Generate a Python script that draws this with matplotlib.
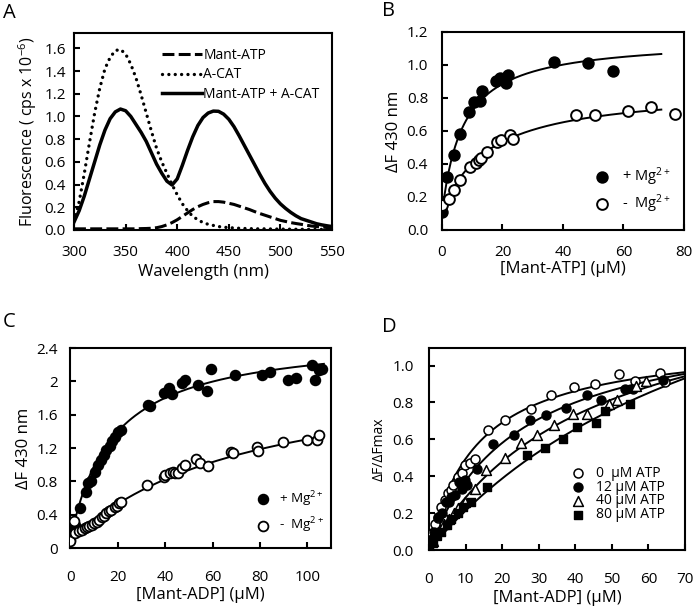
import matplotlib
matplotlib.use('Agg')
import matplotlib.pyplot as plt
import numpy as np

plt.rcParams['font.family'] = ['Open Sans', 'DejaVu Sans']
plt.rcParams['mathtext.fontset'] = 'custom'
plt.rcParams['mathtext.rm'] = 'Open Sans'
plt.rcParams['mathtext.it'] = 'Open Sans:italic'
plt.rcParams['mathtext.bf'] = 'Open Sans:bold'

# ---- panel A: emission spectra (300-550 nm, every 5 nm)
wl = list(range(300, 551, 5))
mant_atp = [0.01, 0.01, 0.01, 0.01, 0.01, 0.01, 0.01, 0.01, 0.01, 0.01, 0.01, 0.01, 0.01, 0.012, 0.013,
            0.015, 0.02, 0.03, 0.045, 0.065,
            0.09, 0.12, 0.15, 0.18, 0.205, 0.225, 0.24, 0.25, 0.25, 0.245, 0.235, 0.225, 0.21, 0.195, 0.18,
            0.162, 0.145, 0.13, 0.115, 0.10,
            0.085, 0.075, 0.065, 0.057, 0.05, 0.042, 0.035, 0.03, 0.025, 0.022, 0.02]
a_cat = [0.08, 0.25, 0.50, 0.77, 1.03, 1.25, 1.42, 1.52, 1.58, 1.59, 1.55, 1.46, 1.34, 1.19, 1.03, 0.87,
         0.72, 0.60, 0.50, 0.40, 0.31, 0.23, 0.17, 0.12, 0.09, 0.065, 0.05, 0.04, 0.03, 0.025, 0.02, 0.018,
         0.015, 0.013, 0.012, 0.01, 0.01,
         0.01, 0.009, 0.008, 0.008, 0.007, 0.007, 0.006, 0.006, 0.005, 0.005, 0.005, 0.005, 0.005, 0.005]
mix = [0.07, 0.17, 0.30, 0.45, 0.60, 0.75, 0.88, 0.98, 1.04, 1.065, 1.05, 1.00, 0.93, 0.86, 0.78, 0.68,
       0.58, 0.50, 0.43, 0.396,
       0.45, 0.57, 0.70, 0.82, 0.92, 0.99, 1.03, 1.047, 1.045, 1.02, 0.975, 0.91, 0.83, 0.745, 0.66, 0.575,
       0.49, 0.41, 0.34, 0.28,
       0.23, 0.19, 0.155, 0.125, 0.10, 0.085, 0.07, 0.055, 0.045, 0.037, 0.03]

# ---- panel B: Mant-ATP titration
bx_mg = [0, 1.7, 3.9, 6.1, 8.9, 10.6, 12.6, 13.3, 17.8, 19.2, 21.1, 21.7, 36.9, 48.3, 56.4]
by_mg = [0.11, 0.32, 0.455, 0.58, 0.715, 0.775, 0.78, 0.84, 0.905, 0.92, 0.89, 0.94, 1.02, 1.015, 0.965]
bx_no = [0, 2.2, 3.9, 6.1, 9.4, 11.1, 12.2, 12.8, 15.0, 18.1, 19.4, 22.4, 23.4, 44.4, 50.5, 61.4, 69.2, 77.0]
by_no = [0.15, 0.19, 0.243, 0.30, 0.379, 0.405, 0.425, 0.435, 0.47, 0.536, 0.547, 0.573, 0.55, 0.698,
         0.698, 0.723, 0.745, 0.704]
fit_b_mg = (0.10, 1.06, 7.0)     # F0, dFmax, Kd
fit_b_no = (0.10, 0.76, 15.0)

# ---- panel C: Mant-ADP titration
cx_mg = [0, 1.0, 2.1, 4.1, 6.5, 7.6, 8.6, 10.3, 11.7, 12.8, 14.2, 15.2, 16.5, 17.7, 18.6, 20.0, 21.4,
         32.7, 33.5, 39.3, 41.4, 42.8, 47.2, 48.3, 53.8, 57.8, 59.3, 69.6, 80.7, 84.1, 91.7, 95.2,
         102.1, 103.4, 104.8, 106.0]
cy_mg = [0.096, 0.2, 0.28, 0.476, 0.676, 0.776, 0.80, 0.916, 0.996, 1.056, 1.116, 1.176, 1.224, 1.288,
         1.328, 1.396, 1.416, 1.716, 1.70, 1.856, 1.924, 1.844, 1.98, 2.016, 1.956, 1.884, 2.144, 2.076,
         2.076, 2.116, 2.016, 2.036, 2.196, 2.016, 2.136, 2.15]
cx_no = [0, 1.5, 2.1, 3.5, 4.8, 6.0, 6.9, 8.0, 9.0, 10.0, 11.0, 12.0, 13.1, 14.2, 15.2, 16.2, 17.3,
         18.6, 19.6, 20.7, 21.5, 32.4, 39.3, 40.0, 42.1, 43.4, 44.1, 45.5, 46.9, 48.3, 53.1, 54.5,
         58.2, 67.6, 68.5, 78.6, 79.0, 89.7, 100.0, 104.1, 105.1]
cy_no = [0.08, 0.33, 0.176, 0.2, 0.22, 0.24, 0.256, 0.26, 0.276, 0.3, 0.316, 0.34, 0.376, 0.39, 0.416,
         0.44, 0.456, 0.496, 0.50, 0.536, 0.55, 0.756, 0.856, 0.876, 0.896, 0.916, 0.90, 0.896, 0.956,
         0.996, 1.064, 1.016, 0.988, 1.156, 1.14, 1.216, 1.17, 1.276, 1.30, 1.30, 1.356]
fit_c_mg = (0.10, 2.463, 17.9)
fit_c_no = (0.08, 2.149, 75.5)

# ---- panel D: Mant-ADP with competing ATP
dx0 = [0.7, 1.6, 2.5, 3.4, 4.5, 5.2, 6.1, 6.6, 7.9, 9.0, 9.8, 11.1, 12.5, 16.1, 20.7, 28.0, 33.5, 39.7,
       45.5, 51.9, 56.3, 63.1, 64.5]
dy0 = [0.09, 0.14, 0.171, 0.234, 0.27, 0.31, 0.324, 0.351, 0.396, 0.42, 0.459, 0.47, 0.495, 0.649,
       0.706, 0.762, 0.838, 0.883, 0.901, 0.955, 0.915, 0.960, 0.91]
dx12 = [0, 0.8, 1.5, 2.5, 3.5, 4.7, 5.5, 6.1, 7.0, 8.1, 9.0, 9.9, 10.5, 13.0, 17.5, 23.3, 27.6, 32.1,
        37.6, 43.1, 47.0, 53.6, 55.8, 63.9]
dy12 = [0.0, 0.06, 0.10, 0.18, 0.20, 0.261, 0.26, 0.288, 0.30, 0.369, 0.33, 0.378, 0.35, 0.441, 0.573,
        0.622, 0.703, 0.733, 0.769, 0.838, 0.814, 0.874, 0.874, 0.924]
dx40 = [1.0, 2.0, 3.0, 4.2, 5.5, 6.8, 8.0, 9.8, 12.5, 15.7, 20.7, 25.3, 29.5, 34.2, 39.4, 43.3, 49.2,
        51.3, 56.7, 59.4]
dy40 = [0.05, 0.08, 0.11, 0.14, 0.17, 0.20, 0.23, 0.26, 0.333, 0.432, 0.50, 0.58, 0.625, 0.675, 0.738,
        0.736, 0.793, 0.815, 0.89, 0.915]
dx80 = [1.0, 2.1, 3.4, 4.8, 6.1, 7.9, 9.3, 11.6, 15.9, 26.9, 31.7, 36.7, 40.4, 45.7, 48.1, 55.0]
dy80 = [0.04, 0.081, 0.099, 0.135, 0.166, 0.198, 0.234, 0.261, 0.344, 0.513, 0.555, 0.60, 0.667, 0.689,
        0.752, 0.791]
fit_d = [(0, 1.146, 13.2), (0, 1.288, 24.4), (0, 1.534, 44.0), (0, 2.124, 89.7)]


def hyperbola(x, p):
    return p[0] + p[1] * x / (p[2] + x)


def style(ax, xpad, ypad):
    for s in ax.spines.values():
        s.set_linewidth(1.5)
    ax.tick_params(direction='in', length=4, width=1.5, labelsize=11)
    ax.tick_params(axis='x', pad=xpad)
    ax.tick_params(axis='y', pad=ypad)


fig = plt.figure(figsize=(6.93, 6.06), dpi=100)

# A
axA = fig.add_axes([0.1068, 0.6205, 0.3723, 0.3251])
axA.plot(wl, mant_atp, color='black', lw=2.2, dashes=(3.9, 1.4), label='Mant-ATP')
axA.plot(wl, a_cat, color='black', lw=2.4, linestyle=(0, (0.01, 1.9)), dash_capstyle='round',
         label='A-CAT')
axA.plot(wl, mix, color='black', lw=2.5, label='Mant-ATP + A-CAT')
axA.set_xlim(300, 550)
axA.set_ylim(0, 1.735)
axA.set_xticks([300, 350, 400, 450, 500, 550])
axA.set_yticks(np.arange(0, 1.61, 0.2))
axA.set_yticklabels(['%.1f' % v for v in np.arange(0, 1.61, 0.2)])
axA.set_xlabel('Wavelength (nm)', fontsize=12, labelpad=3)
axA.set_ylabel('Fluorescence ( cps x 10$^{-6}$)', fontsize=11.5, labelpad=4)
axA.legend(loc='upper right', frameon=False, fontsize=10, handlelength=2.9, handletextpad=0.1,
           labelspacing=0.35, borderaxespad=0.3, bbox_to_anchor=(0.99, 0.975))
style(axA, 10.5, 6)

# B
axB = fig.add_axes([0.6378, 0.6205, 0.3492, 0.3267])
xb = np.linspace(0, 72.5, 200)
axB.plot(xb, hyperbola(xb, fit_b_mg), color='black', lw=1.4)
axB.plot(xb, hyperbola(xb, fit_b_no), color='black', lw=1.4)
axB.scatter(bx_mg, by_mg, s=60, facecolor='black', edgecolor='black', linewidth=1.2, zorder=3,
            label='+ Mg$^{2+}$')
axB.scatter(bx_no, by_no, s=60, facecolor='white', edgecolor='black', linewidth=1.4, zorder=3,
            label='-  Mg$^{2+}$')
axB.set_xlim(0, 80)
axB.set_ylim(0, 1.2)
axB.set_xticks([0, 20, 40, 60, 80])
axB.set_yticks(np.arange(0, 1.21, 0.2))
axB.set_yticklabels(['%.1f' % v for v in np.arange(0, 1.21, 0.2)])
axB.set_xlabel('[Mant-ATP] (\u03bcM)', fontsize=12, labelpad=1)
axB.set_ylabel('\u0394F 430 nm', fontsize=12, labelpad=3)
axB.legend(loc='lower right', frameon=False, fontsize=10.5, handletextpad=0.4, labelspacing=0.3,
           bbox_to_anchor=(1.0, 0.01))
style(axB, 10.5, 10)

# C
axC = fig.add_axes([0.1017, 0.0957, 0.3759, 0.33])
xc = np.linspace(0, 107, 200)
axC.plot(xc, hyperbola(xc, fit_c_mg), color='black', lw=1.4)
axC.plot(xc, hyperbola(xc, fit_c_no), color='black', lw=1.4)
axC.scatter(cx_mg, cy_mg, s=50, facecolor='black', edgecolor='black', linewidth=1.2, zorder=3,
            label='+ Mg$^{2+}$')
axC.scatter(cx_no, cy_no, s=50, facecolor='white', edgecolor='black', linewidth=1.3, zorder=3,
            label='-  Mg$^{2+}$')
axC.set_xlim(0, 110)
axC.set_ylim(0, 2.4)
axC.set_xticks([0, 20, 40, 60, 80, 100])
axC.set_yticks([0, 0.4, 0.8, 1.2, 1.6, 2.0, 2.4])
axC.set_yticklabels(['0', '0.4', '0.8', '1.2', '1.6', '2', '2.4'])
axC.set_xlabel('[Mant-ADP] (\u03bcM)', fontsize=12, labelpad=1)
axC.set_ylabel('\u0394F 430 nm', fontsize=12, labelpad=3)
axC.legend(loc='lower right', frameon=False, fontsize=9.7, handletextpad=0.2, labelspacing=0.5,
           bbox_to_anchor=(1.02, 0.005))
style(axC, 16, 9)

# D
axD = fig.add_axes([0.619, 0.0924, 0.3694, 0.3333])
xd = np.linspace(0, 70, 200)
for p in fit_d:
    axD.plot(xd, hyperbola(xd, p), color='black', lw=1.4)
axD.scatter(dx0, dy0, s=42, facecolor='white', edgecolor='black', linewidth=1.1, zorder=3,
            label='0  \u03bcM ATP')
axD.scatter(dx12, dy12, s=42, facecolor='black', edgecolor='black', linewidth=1.0, zorder=3,
            label='12 \u03bcM ATP')
axD.scatter(dx40, dy40, s=50, marker='^', facecolor='white', edgecolor='black', linewidth=1.1,
            zorder=3, label='40 \u03bcM ATP')
axD.scatter(dx80, dy80, s=38, marker='s', facecolor='black', edgecolor='black', linewidth=1.0,
            zorder=3, label='80 \u03bcM ATP')
axD.set_xlim(0, 70)
axD.set_ylim(0, 1.095)
axD.set_xticks(np.arange(0, 71, 10))
axD.set_yticks(np.arange(0, 1.01, 0.2))
axD.set_yticklabels(['%.1f' % v for v in np.arange(0, 1.01, 0.2)])
axD.set_xlabel('[Mant-ADP] (\u03bcM)', fontsize=12, labelpad=2)
axD.set_ylabel('\u0394F/\u0394Fmax', fontsize=10, labelpad=4)
axD.legend(loc='lower right', frameon=False, fontsize=10, handletextpad=0.3, labelspacing=-0.08,
           bbox_to_anchor=(0.97, 0.075))
style(axD, 16, 11)

# panel letters
for lbl, x, y in [('A', 0.004, 0.995), ('B', 0.551, 0.999), ('C', 0.004, 0.485), ('D', 0.551, 0.477)]:
    fig.text(x, y, lbl, fontsize=14.5, va='top', ha='left')

fig.savefig('out.png', dpi=100)
